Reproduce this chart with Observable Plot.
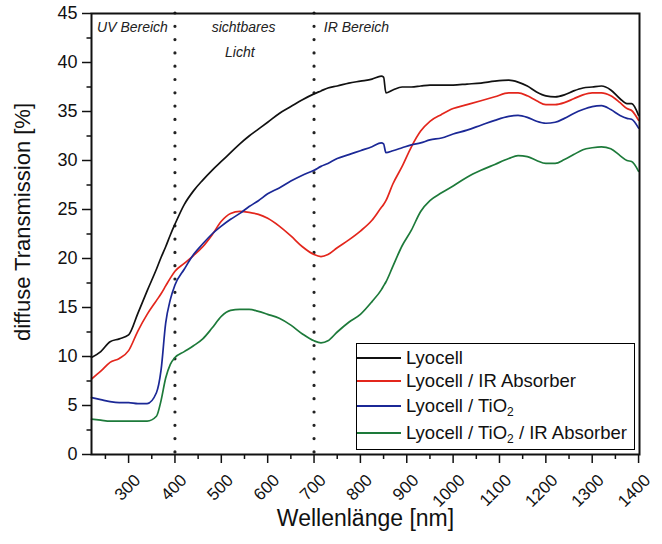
<!DOCTYPE html>
<html><head><meta charset="utf-8">
<script src="https://cdn.jsdelivr.net/npm/d3@7"></script>
<script src="https://cdn.jsdelivr.net/npm/@observablehq/plot@0.6"></script>
<style>
body{margin:0;background:#fff;}
#wrap{position:relative;width:662px;height:544px;font-family:"Liberation Sans",Arial,sans-serif;}
#legend{position:absolute;left:356px;top:343px;width:279px;height:107px;border:1.5px solid #000;box-sizing:border-box;background:#fff;}
.row{position:absolute;left:0;height:24px;display:flex;align-items:center;font-size:18.5px;color:#111;white-space:nowrap;}
.sw{display:inline-block;width:44px;height:0;border-top:2px solid #000;margin-right:5px;}
sub{font-size:12px;vertical-align:-4px;line-height:0;}
</style></head>
<body><div id="wrap"></div>
<script>
const wavelengths = [220,240,260,280,300,320,340,360,370,380,390,400,420,440,460,480,500,520,540,560,580,600,625,650,675,700,715,730,750,775,800,825,845,850,855,870,890,910,930,950,975,1000,1030,1060,1090,1120,1140,1160,1180,1200,1220,1240,1260,1280,1300,1320,1340,1360,1375,1385,1400];
const lyocell = [9.9,10.5,11.5,11.8,12.2,14.4,16.7,18.9,20.1,21.2,22.4,23.5,25.5,26.9,28.0,29.0,29.9,30.8,31.7,32.5,33.2,33.9,34.8,35.5,36.2,36.8,37.1,37.4,37.6,37.9,38.1,38.3,38.6,38.5,36.9,37.2,37.5,37.5,37.6,37.7,37.7,37.7,37.8,37.9,38.1,38.2,38.0,37.6,37.0,36.6,36.5,36.7,37.1,37.4,37.5,37.6,37.2,36.3,35.8,35.8,34.6];
const lyocellIR = [7.7,8.5,9.4,9.8,10.6,12.6,14.3,15.7,16.4,17.2,18.0,18.7,19.5,20.3,21.2,22.4,23.8,24.6,24.8,24.7,24.5,24.1,23.3,22.3,21.2,20.4,20.2,20.4,21.1,21.9,22.8,23.9,25.2,25.5,25.9,27.6,29.4,31.4,33.0,34.0,34.7,35.3,35.7,36.1,36.5,36.9,36.9,36.6,36.1,35.7,35.7,35.9,36.3,36.7,36.9,36.9,36.6,35.9,35.3,35.1,34.1];
const lyocellTiO2 = [5.8,5.6,5.4,5.3,5.3,5.2,5.2,6.3,8.6,13.4,15.8,17.3,18.9,20.4,21.5,22.5,23.3,24.0,24.6,25.3,25.9,26.6,27.2,27.9,28.5,29.0,29.4,29.7,30.2,30.6,31.0,31.4,31.8,31.7,30.8,31.0,31.3,31.6,31.8,32.1,32.3,32.7,33.1,33.6,34.1,34.5,34.6,34.4,34.0,33.8,33.9,34.3,34.8,35.2,35.5,35.6,35.2,34.6,34.3,34.2,33.3];
const lyocellTiO2IR = [3.6,3.5,3.4,3.4,3.4,3.4,3.4,3.9,5.5,7.8,9.2,9.9,10.5,11.1,11.8,12.9,14.1,14.7,14.8,14.8,14.6,14.3,13.9,13.2,12.3,11.6,11.4,11.6,12.5,13.5,14.3,15.6,16.8,17.2,17.6,19.2,21.3,22.9,24.8,25.9,26.7,27.4,28.3,29.0,29.6,30.2,30.5,30.4,30.0,29.7,29.7,30.1,30.6,31.1,31.3,31.4,31.2,30.5,30.0,29.9,28.9];
const seriesNames = ["Lyocell","Lyocell / IR Absorber","Lyocell / TiO<sub>2</sub>","Lyocell / TiO<sub>2</sub> / IR Absorber"];
const seriesColors = ["#111111","#e3261c","#1b2896","#1d7a3a"];
const yTicks = [0,5,10,15,20,25,30,35,40,45];
const xTicks = [300,400,500,600,700,800,900,1000,1100,1200,1300,1400];
const regionBounds = [400,700];
const regionLabels = [
  {x:232, y:43.6, text:"UV Bereich", anchor:"start"},
  {x:548, y:43.6, text:"sichtbares", anchor:"middle"},
  {x:540, y:41.0, text:"Licht", anchor:"middle"},
  {x:721, y:43.6, text:"IR Bereich", anchor:"start"}
];

const seriesValues = [lyocell, lyocellIR, lyocellTiO2, lyocellTiO2IR];
const font = "'Liberation Sans', Arial, sans-serif";

const lineMarks = seriesValues.map((vals, i) =>
  Plot.line(wavelengths.map((w, j) => ({w, v: vals[j]})), {
    x: "w", y: "v", stroke: seriesColors[i], strokeWidth: 1.7, curve: "monotone-x"
  })
);

const chart = Plot.plot({
  width: 662, height: 544,
  marginLeft: 91, marginRight: 23, marginTop: 13, marginBottom: 90,
  style: {fontFamily: font, color: "#111", background: "transparent", overflow: "visible"},
  x: {domain: [220, 1402]},
  y: {domain: [0, 45]},
  marks: [
    Plot.axisY({ticks: yTicks, tickSize: 9, tickPadding: 5, fontSize: 18, label: null, strokeWidth: 1.5}),
    Plot.axisY({ticks: d3.range(2.5, 45, 5), tickSize: 4.5, text: null, label: null, strokeWidth: 1.5}),
    Plot.axisX({ticks: xTicks, tickSize: 9, tickRotate: -45, fontSize: 17, label: null, strokeWidth: 1.5, tickPadding: 6, tickFormat: d => String(d), textStroke: null}),
    Plot.axisX({ticks: d3.range(250, 1400, 100), tickSize: 5, text: null, label: null, strokeWidth: 1.5}),
    Plot.ruleX(regionBounds, {strokeDasharray: "0,13.3", strokeLinecap: "round", strokeWidth: 3.2, stroke: "#222"}),
    ...lineMarks,
    Plot.frame({strokeWidth: 2, stroke: "#111"}),
    Plot.text(regionLabels.filter(d => d.anchor === "start"), {x: "x", y: "y", text: "text", textAnchor: "start", fontStyle: "italic", fontSize: 14, fill: "#222"}),
    Plot.text(regionLabels.filter(d => d.anchor === "middle"), {x: "x", y: "y", text: "text", textAnchor: "middle", fontStyle: "italic", fontSize: 14, fill: "#222"}),
    Plot.text(["diffuse Transmission [%]"], {frameAnchor: "left", textAnchor: "middle", rotate: -90, dx: -69, dy: -12, fontSize: 22, fill: "#111"}),
    Plot.text(["Wellenlänge [nm]"], {frameAnchor: "bottom", textAnchor: "middle", dy: 71, fontSize: 23, fill: "#111"})
  ]
});

// shift rotated x tick labels to match the reference offset
chart.querySelectorAll("g[aria-label='x-axis tick label']").forEach(g => {
  const t = g.getAttribute("transform") || "";
  g.setAttribute("transform", t + " translate(9,8)");
});

const wrap = document.getElementById("wrap");
wrap.appendChild(chart);
const legend = document.createElement("div");
legend.id = "legend";
const rowTops = [2, 25, 50, 77];
seriesNames.forEach((name, i) => {
  const row = document.createElement("div");
  row.className = "row";
  row.style.top = rowTops[i] + "px";
  row.innerHTML = `<span class="sw" style="border-top-color:${seriesColors[i]}"></span><span>${name}</span>`;
  legend.appendChild(row);
});
wrap.appendChild(legend);
</script>
</body></html>
